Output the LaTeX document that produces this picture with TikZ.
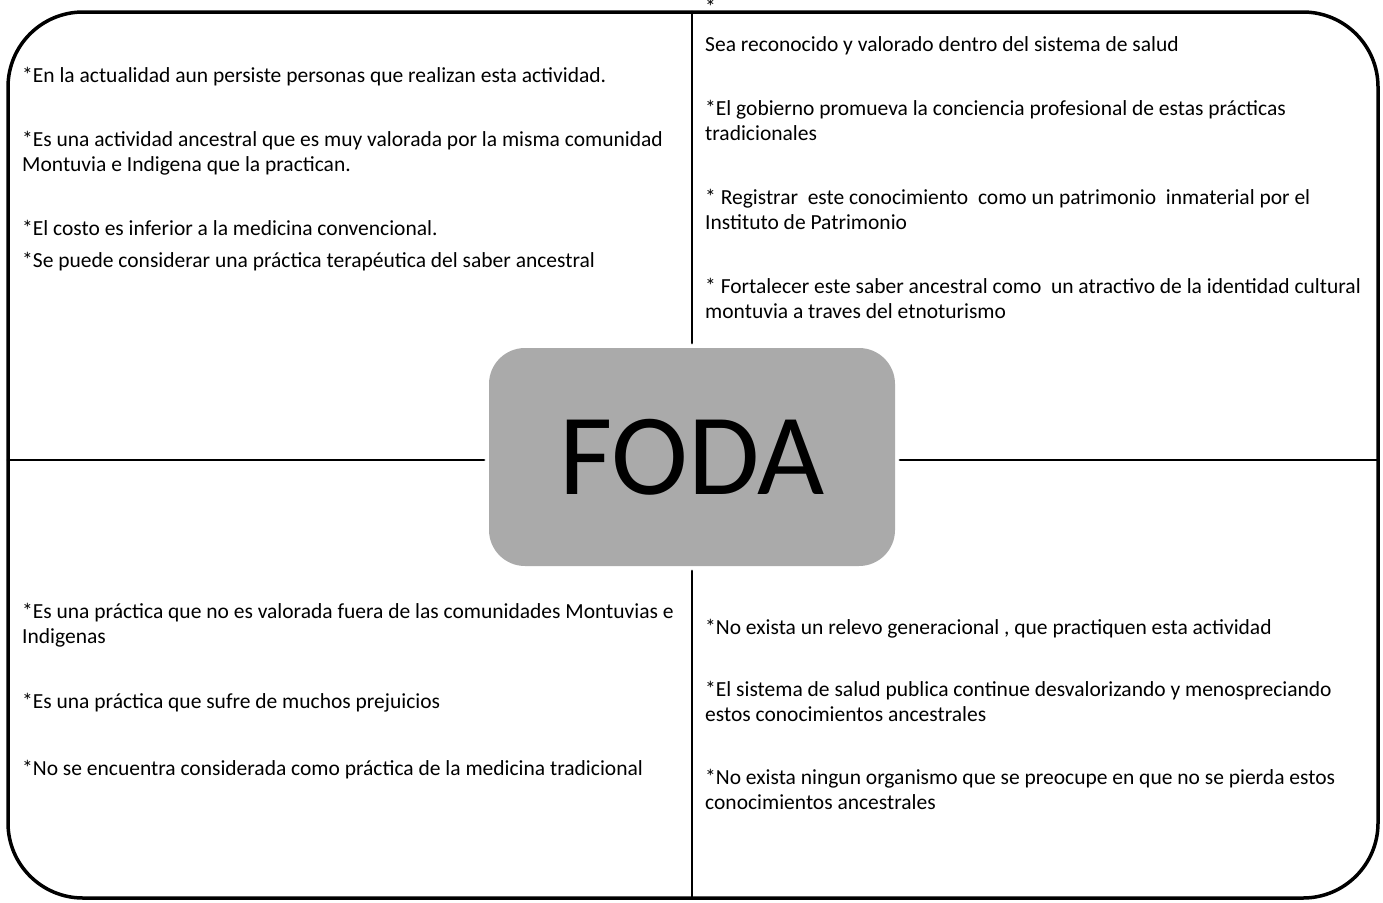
\documentclass[tikz,border=0pt]{standalone}
\usepackage{fontspec}
\setmainfont{Carlito}
\definecolor{fodagray}{RGB}{170,170,170}
\begin{document}
\begin{tikzpicture}[x=1pt,y=-1pt,line join=round,line cap=round,
  frame/.style={line width=3.5pt},
  cross/.style={line width=2.8pt},
  txt/.style={anchor=base west,align=left,inner sep=0pt,font=\fontsize{21.5}{25}\selectfont},
  core/.style={rounded corners=36pt,fill=fodagray,minimum width=406pt,minimum height=218pt,outer sep=5pt,font=\fontsize{116}{120}\selectfont}]
\def\xl{22};
\def\xr{705};
\useasboundingbox (0,0) rectangle (1383,902);
\draw[frame,rounded corners=75pt] (8,12) rectangle (1378,898);
\coordinate (ftop) at (692,12);
\coordinate (fbot) at (692,898);
\coordinate (fleft) at (8,460);
\coordinate (fright) at (1378,460);
\node[core] (foda) at (692,457) {FODA};
\draw[cross] (ftop) -- (foda.north);
\draw[cross] (fbot) -- (foda.south);
\draw[cross] (fleft) -- (foda.west |- fleft);
\draw[cross] (fright) -- (foda.east |- fright);
% fortalezas (base = last line)
\node[txt] (f1) at (\xl,82) {*En la actualidad aun persiste personas que realizan esta actividad.};
\node[txt] (f2) at (\xl,171) {*Es una actividad ancestral que es muy valorada por la misma comunidad\\Montuvia e Indigena que la practican.};
\node[txt] (f3) at (\xl,235) {*El costo es inferior a la medicina convencional.};
\node[txt] (f4) at (\xl,267) {*Se puede considerar una práctica terapéutica del saber ancestral};
% oportunidades
\node[txt] (o0) at (\xr,14) {*};
\node[txt] (o1) at (\xr,51) {Sea reconocido y valorado dentro del sistema de salud};
\node[txt] (o2) at (\xr,140) {*El gobierno promueva la conciencia profesional de estas prácticas\\tradicionales};
\node[txt] (o3) at (\xr,229) {* Registrar\ \ este conocimiento\ \ como un patrimonio\ \ inmaterial por el\\Instituto de Patrimonio};
\node[txt] (o4) at (\xr,318) {* Fortalecer este saber ancestral como\ \ un atractivo de la identidad cultural\\montuvia a traves del etnoturismo};
% debilidades
\node[txt] (d1) at (\xl,643) {*Es una práctica que no es valorada fuera de las comunidades Montuvias e\\Indigenas};
\node[txt] (d2) at (\xl,708) {*Es una práctica que sufre de muchos prejuicios};
\node[txt] (d3) at (\xl,775) {*No se encuentra considerada como práctica de la medicina tradicional};
% amenazas
\node[txt] (a1) at (\xr,634) {*No exista un relevo generacional , que practiquen esta actividad};
\node[txt] (a2) at (\xr,721) {*El sistema de salud publica continue desvalorizando y menospreciando\\estos conocimientos ancestrales};
\node[txt] (a3) at (\xr,809) {*No exista ningun organismo que se preocupe en que no se pierda estos\\conocimientos ancestrales};
\end{tikzpicture}
\end{document}
